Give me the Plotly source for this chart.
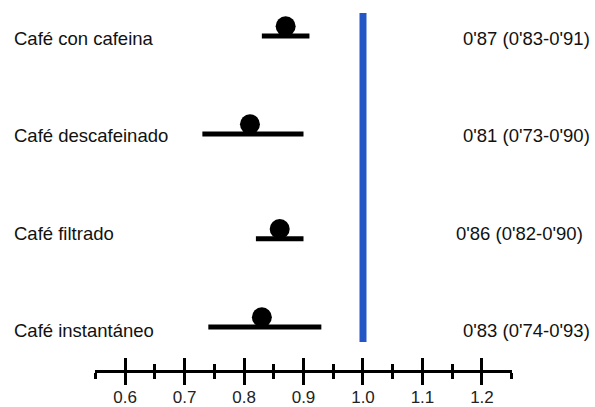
import plotly.graph_objects as go

categories = ["Café con cafeina", "Café descafeinado", "Café filtrado", "Café instantáneo"]
estimates = [0.87, 0.81, 0.86, 0.83]
lower = [0.83, 0.73, 0.82, 0.74]
upper = [0.91, 0.90, 0.90, 0.93]
labels_right = ["0'87 (0'83-0'91)", "0'81 (0'73-0'90)", "0'86 (0'82-0'90)", "0'83 (0'74-0'93)"]
reference_value = 1.0
tick_vals = [0.6, 0.7, 0.8, 0.9, 1.0, 1.1, 1.2]
tick_text = ["0.6", "0.7", "0.8", "0.9", "1.0", "1.1", "1.2"]
minor_vals = [0.55, 0.65, 0.75, 0.85, 0.95, 1.05, 1.15, 1.25]

# layout: vertical slot of each row (lines) and of its texts, right edge of right texts (px)
row_y = [0, 1.01, 2.09, 3.0]
text_y = [0.03, 1.03, 2.04, 3.04]
right_edge_px = [592, 592, 585, 592]

W, H = 595, 407
ML, MR, MT, MB = 95, 83, 10, 37
PW = W - ML - MR
PH = H - MT - MB
marker_offset = 0.10
FONT = "Liberation Sans, Arial, sans-serif"

fig = go.Figure()

# confidence intervals as horizontal error bars
fig.add_trace(go.Scatter(
    x=estimates, y=row_y, mode="markers",
    marker=dict(size=1, color="rgba(0,0,0,0)"),
    error_x=dict(type="data", symmetric=False,
                 array=[u - e for u, e in zip(upper, estimates)],
                 arrayminus=[e - l for e, l in zip(estimates, lower)],
                 width=0, thickness=5, color="black"),
    showlegend=False, hoverinfo="skip"))

# point estimates sitting on the lines
fig.add_trace(go.Scatter(
    x=estimates, y=[r - marker_offset for r in row_y], mode="markers",
    marker=dict(size=20, color="black"),
    showlegend=False))

# dummy trace for the overlaying axis (ticks pointing up)
fig.add_trace(go.Scatter(x=[reference_value], y=[0], xaxis="x2", mode="markers",
                         marker=dict(size=1, color="rgba(0,0,0,0)"),
                         showlegend=False, hoverinfo="skip"))

xrange = [0.5495, 1.2505]

fig.add_shape(type="line", xref="x", yref="paper",
              x0=reference_value, x1=reference_value,
              y0=1 - (342 - MT) / PH, y1=1 - (13 - MT) / PH,
              line=dict(color="#2457c5", width=7), layer="below")

for ty, c, t, rx in zip(text_y, categories, labels_right, right_edge_px):
    fig.add_annotation(x=(12 - ML) / PW, xref="paper", y=ty, yref="y", text=c,
                       showarrow=False, xanchor="left", yanchor="middle",
                       font=dict(size=18.5, color="#111111", family=FONT))
    fig.add_annotation(x=(rx - ML) / PW, xref="paper", y=ty, yref="y", text=t,
                       showarrow=False, xanchor="right", yanchor="middle",
                       font=dict(size=18.5, color="#111111", family=FONT))

fig.update_layout(
    width=W, height=H,
    margin=dict(l=ML, r=MR, t=MT, b=MB),
    plot_bgcolor="white", paper_bgcolor="white",
    font=dict(family=FONT, color="#111111"),
    xaxis=dict(range=xrange, showgrid=False, zeroline=False, automargin=False,
               showline=True, linewidth=3, linecolor="black",
               tickmode="array", tickvals=tick_vals, ticktext=tick_text,
               ticks="outside", ticklen=12, tickwidth=3, tickcolor="black",
               ticklabelstandoff=-2,
               tickfont=dict(size=17, color="#222222", family=FONT),
               minor=dict(tickmode="array", tickvals=minor_vals, ticks="outside",
                          ticklen=6, tickwidth=3, tickcolor="black", showgrid=False)),
    xaxis2=dict(range=xrange, overlaying="x", side="bottom", anchor="y",
                showgrid=False, zeroline=False, showline=False, automargin=False,
                showticklabels=False,
                tickmode="array", tickvals=tick_vals,
                ticks="inside", ticklen=12, tickwidth=3, tickcolor="black",
                minor=dict(tickmode="array", tickvals=minor_vals, ticks="inside",
                           ticklen=6, tickwidth=3, tickcolor="black", showgrid=False)),
    yaxis=dict(range=[3 + 43 / 97, -26 / 97], visible=False, showgrid=False,
               automargin=False),
)

# remove the default page margin and any scrolling so the 595x407 figure fills the window exactly
page_js = ("document.body.style.margin='0';"
           "document.body.style.overflow='hidden';"
           "document.documentElement.style.overflow='hidden';")
fig.write_html("out.html", post_script=page_js, config={"displayModeBar": False})
